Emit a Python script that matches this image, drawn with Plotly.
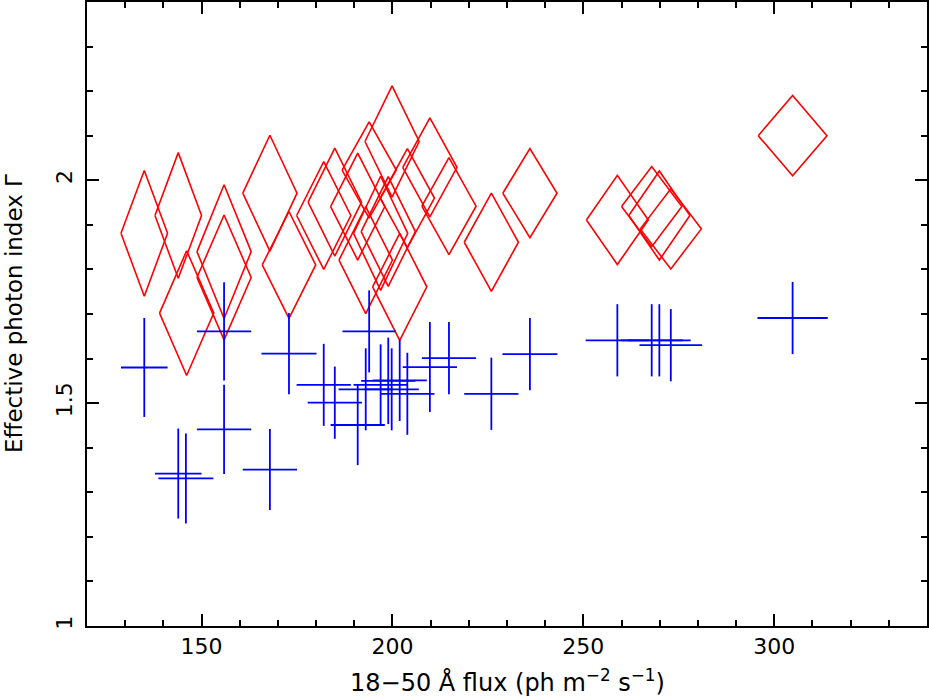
import plotly.graph_objects as go

# red diamonds (x error / y error drawn as a diamond)
dia_flux = [135.0, 143.9, 146.1, 155.9, 155.9, 167.9, 172.9, 182.0, 184.9, 190.9, 193.0, 193.9, 196.9,
            198.9, 199.9, 201.9, 203.9, 209.8, 214.8, 225.9, 236.0, 258.9, 267.9, 269.9, 272.9, 304.8]
dia_flux_err = [6.1, 6.1, 7.1, 7.1, 7.1, 7.1, 7.0, 7.1, 7.0, 7.1, 7.0, 7.1, 7.1,
                7.1, 7.1, 7.1, 7.1, 7.1, 7.1, 7.1, 7.1, 8.1, 7.9, 8.0, 8.0, 9.0]
dia_gamma = [1.881, 1.921, 1.702, 1.840, 1.782, 1.971, 1.810, 1.921, 1.951, 1.941, 1.821, 2.023, 1.881,
             1.885, 2.087, 1.761, 1.960, 2.029, 1.942, 1.861, 1.971, 1.911, 1.941, 1.921, 1.891, 2.100]
dia_gamma_err = [0.141, 0.141, 0.140, 0.150, 0.140, 0.130, 0.120, 0.121, 0.121, 0.120, 0.120, 0.108, 0.128,
                 0.123, 0.125, 0.120, 0.111, 0.111, 0.109, 0.110, 0.100, 0.100, 0.090, 0.100, 0.090, 0.090]

# blue crosses
crs_flux = [135.0, 143.9, 145.9, 155.9, 155.9, 167.9, 172.9, 182.0, 184.9, 190.9, 193.0, 193.9, 196.9,
            198.9, 199.8, 201.9, 203.9, 209.8, 214.8, 225.9, 236.0, 258.9, 267.9, 269.9, 272.9, 304.8]
crs_flux_err = [6.1, 6.1, 7.2, 7.1, 7.1, 7.1, 7.2, 7.1, 7.1, 7.1, 7.1, 7.0, 7.1,
                7.1, 7.1, 7.1, 7.1, 7.1, 7.1, 7.1, 7.2, 8.3, 8.2, 8.2, 8.2, 9.2]
crs_gamma = [1.580, 1.342, 1.331, 1.661, 1.441, 1.351, 1.611, 1.541, 1.501, 1.451, 1.531, 1.661, 1.541,
             1.550, 1.531, 1.551, 1.521, 1.581, 1.601, 1.521, 1.610, 1.641, 1.641, 1.641, 1.630, 1.691]
crs_gamma_err = [0.111, 0.101, 0.101, 0.110, 0.100, 0.091, 0.091, 0.092, 0.081, 0.090, 0.092, 0.092, 0.091,
                 0.097, 0.092, 0.091, 0.092, 0.101, 0.081, 0.081, 0.081, 0.081, 0.081, 0.081, 0.081, 0.081]

x_tickvals = [150, 200, 250, 300]
y_tickvals = [1, 1.5, 2]
y_ticktext = ["1", "1.5", "2"]

FONT = "DejaVu Sans, sans-serif"

# diamond outlines, one path per point, separated by None
dx_path, dy_path = [], []
for x, ex, y, ey in zip(dia_flux, dia_flux_err, dia_gamma, dia_gamma_err):
    dx_path += [x - ex, x, x + ex, x, x - ex, None]
    dy_path += [y, y + ey, y, y - ey, y, None]

fig = go.Figure()

fig.add_trace(go.Scatter(
    x=dx_path, y=dy_path, mode="lines",
    line=dict(color="#ff0000", width=1.6),
    hoverinfo="skip",
))

fig.add_trace(go.Scatter(
    x=crs_flux, y=crs_gamma, mode="markers",
    marker=dict(size=1, color="rgba(0,0,0,0)"),
    error_x=dict(type="data", array=crs_flux_err, width=0, thickness=1.8, color="#0000ff"),
    error_y=dict(type="data", array=crs_gamma_err, width=0, thickness=1.8, color="#0000ff"),
))

axis_common = dict(
    showline=True, linecolor="black", linewidth=2, mirror="allticks",
    ticks="inside", ticklen=12, tickwidth=1.5, tickcolor="black",
    showgrid=False, zeroline=False, automargin=False,
    tickfont=dict(family=FONT, size=22, color="black"),
)

fig.update_xaxes(
    range=[120, 340], tickvals=x_tickvals,
    minor=dict(ticks="inside", ticklen=6, tickwidth=1.5, tickcolor="black", dtick=10, tick0=0, showgrid=False),
    **axis_common,
)
fig.update_yaxes(
    range=[1, 2.4], tickvals=y_tickvals, ticktext=y_ticktext, tickangle=-90,
    ticklabelstandoff=4,
    minor=dict(ticks="inside", ticklen=6, tickwidth=1.5, tickcolor="black", dtick=0.1, tick0=0, showgrid=False),
    **axis_common,
)

# axis titles placed as annotations so the frame stays where it is
fig.add_annotation(
    text="18\u221250 \u00c5 flux (ph m<sup>\u22122</sup> s<sup>\u22121</sup>)",
    xref="paper", yref="paper", x=0.5, y=0, xanchor="center", yanchor="middle",
    yshift=-55, showarrow=False, font=dict(family=FONT, size=24, color="black"),
)
fig.add_annotation(
    text="Effective photon index \u0393",
    xref="paper", yref="paper", x=0, y=0.5, xanchor="center", yanchor="middle",
    xshift=-73, textangle=-90, showarrow=False, font=dict(family=FONT, size=23, color="black"),
)

fig.update_layout(
    width=929, height=697,
    margin=dict(l=87, r=2, t=2, b=71),
    plot_bgcolor="white", paper_bgcolor="white",
    showlegend=False,
)

# the page body has a default 8px margin; drop it so the figure fills the window
fig.write_html(
    "out.html",
    config={"displayModeBar": False},
    post_script="document.body.style.margin='0';document.body.style.overflow='hidden';",
)
